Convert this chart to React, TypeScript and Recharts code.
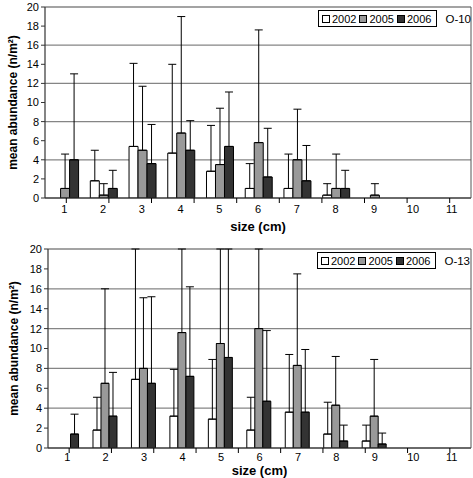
import { Bar, BarChart, CartesianGrid, ErrorBar, Legend, XAxis, YAxis } from 'recharts';

const SIZES = ['1', '2', '3', '4', '5', '6', '7', '8', '9', '10', '11'];
const EDGES = [0.5, 1.5, 2.5, 3.5, 4.5, 5.5, 6.5, 7.5, 8.5, 9.5, 10.5, 11.5];
const Y_TICKS = [0, 2, 4, 6, 8, 10, 12, 14, 16, 18, 20];
const Y_MAX = 20;
const YEARS = ['2002', '2005', '2006'];

// O-10: means and upper ends of the error bars
const O10_2002 = [0, 1.8, 5.4, 4.7, 2.8, 1.0, 1.0, 0.3, 0, 0, 0];
const O10_2005 = [1.0, 0.3, 5.0, 6.8, 3.5, 5.8, 4.0, 1.0, 0.3, 0, 0];
const O10_2006 = [4.0, 1.0, 3.6, 5.0, 5.4, 2.2, 1.8, 1.0, 0, 0, 0];
const O10_2002_UP = [0, 5.0, 14.1, 14.0, 7.6, 3.6, 4.6, 1.5, 0, 0, 0];
const O10_2005_UP = [4.6, 1.5, 11.7, 19.0, 9.4, 17.6, 9.3, 4.6, 1.5, 0, 0];
const O10_2006_UP = [13.0, 2.9, 7.7, 8.1, 11.1, 7.3, 5.5, 2.9, 0, 0, 0];

// O-13 (25 = runs off the top of the chart)
const O13_2002 = [0, 1.8, 6.9, 3.2, 2.9, 1.8, 3.6, 1.4, 0.7, 0, 0];
const O13_2005 = [0, 6.5, 8.0, 11.6, 10.5, 12.0, 8.3, 4.3, 3.2, 0, 0];
const O13_2006 = [1.4, 3.2, 6.5, 7.2, 9.1, 4.7, 3.6, 0.7, 0.4, 0, 0];
const O13_2002_UP = [0, 5.1, 25, 7.9, 8.9, 5.1, 9.4, 4.6, 2.3, 0, 0];
const O13_2005_UP = [0, 16.0, 15.1, 25, 25, 25, 17.5, 9.2, 8.9, 0, 0];
const O13_2006_UP = [3.4, 7.6, 15.2, 16.2, 25, 11.8, 9.9, 2.3, 1.5, 0, 0];

const FONT = '"Liberation Sans", Arial, sans-serif';
const FILLS = ['#ffffff', '#999999', '#333333'];

// error bars are one-sided (upwards), cut at the top of the plot
function build(a: number[], b: number[], c: number[], ua: number[], ub: number[], uc: number[]) {
  return SIZES.map((size, i) => ({
    size,
    v2002: a[i],
    v2005: b[i],
    v2006: c[i],
    e2002: [0, Math.min(ua[i], Y_MAX) - a[i]],
    e2005: [0, Math.min(ub[i], Y_MAX) - b[i]],
    e2006: [0, Math.min(uc[i], Y_MAX) - c[i]],
  }));
}

const dataO10 = build(O10_2002, O10_2005, O10_2006, O10_2002_UP, O10_2005_UP, O10_2006_UP);
const dataO13 = build(O13_2002, O13_2005, O13_2006, O13_2002_UP, O13_2005_UP, O13_2006_UP);

function LegendBox({ payload, tag }: any) {
  return (
    <div style={{ display: 'flex', alignItems: 'center', fontFamily: FONT, fontSize: 11, color: '#000', whiteSpace: 'nowrap' }}>
      <div style={{ display: 'flex', alignItems: 'center', border: '1px solid #000', padding: '0 2px 0 3px', height: 15, background: '#fff' }}>
        {(payload || []).map((p: any) => (
          <span key={p.value} style={{ display: 'flex', alignItems: 'center', marginRight: 3 }}>
            <span style={{ width: 6, height: 6, background: p.color, border: '1px solid #000', marginRight: 2 }} />
            {p.value}
          </span>
        ))}
      </div>
      <span style={{ marginLeft: 8, fontSize: 11.5 }}>{tag}</span>
    </div>
  );
}

interface PanelProps {
  data: any[];
  tag: string;
  height: number;
  top: number;
  axisHeight: number;
  tickGap: number;
  titleOffset: number;
  yWidth: number;
  legendTop: number;
  legendLeft: number;
}

function Panel({ data, tag, height, top, axisHeight, tickGap, titleOffset, yWidth, legendTop, legendLeft }: PanelProps) {
  return (
    <BarChart
      width={473}
      height={height}
      data={data}
      margin={{ top, right: 1, bottom: 0, left: 0 }}
      barCategoryGap="17%"
      barGap={0}
      style={{ fontFamily: FONT }}
    >
      <CartesianGrid xAxisId="b" vertical={false} stroke="#858585" strokeWidth={1.3} />
      {/* tick marks between the size classes, sits right on the plot */}
      <XAxis
        xAxisId="a"
        type="number"
        domain={[0.5, 11.5]}
        ticks={EDGES}
        allowDataOverflow
        tickFormatter={() => ''}
        axisLine={{ stroke: '#333', strokeWidth: 1.2 }}
        tickLine={{ stroke: '#000' }}
        tickSize={5}
        height={1}
      />
      <XAxis
        xAxisId="b"
        dataKey="size"
        tickLine={false}
        axisLine={false}
        tick={{ fontSize: 11, fill: '#000' }}
        tickSize={tickGap}
        height={axisHeight - 1}
        label={{ value: 'size (cm)', position: 'insideBottom', offset: titleOffset, fontSize: 13, fontWeight: 'bold', fill: '#000' }}
      />
      <YAxis
        domain={[0, Y_MAX]}
        ticks={Y_TICKS}
        allowDataOverflow
        width={yWidth}
        tickSize={4}
        tick={{ fontSize: 11, fill: '#000' }}
        axisLine={{ stroke: '#333', strokeWidth: 1.2 }}
        tickLine={{ stroke: '#333' }}
        label={{ value: 'mean abundance (n/m²)', angle: -90, position: 'center', dx: -10, fontSize: 12, fontWeight: 'bold', fill: '#000' }}
      />
      <YAxis yAxisId="r" orientation="right" domain={[0, Y_MAX]} tick={false} tickLine={false} width={1} axisLine={{ stroke: '#555' }} />
      {YEARS.map((y, i) => (
        <Bar key={y} xAxisId="b" dataKey={`v${y}`} name={y} fill={FILLS[i]} stroke="#000" strokeWidth={1} isAnimationActive={false}>
          <ErrorBar dataKey={`e${y}`} direction="y" width={4} stroke="#000" strokeWidth={1} />
        </Bar>
      ))}
      <Legend
        layout="horizontal"
        verticalAlign="middle"
        content={(props: any) => <LegendBox payload={props.payload} tag={tag} />}
        wrapperStyle={{ top: legendTop, left: legendLeft, width: 154 }}
      />
    </BarChart>
  );
}

export default function App() {
  return (
    <div style={{ position: 'absolute', left: 0, top: 0, width: 473, height: 478, background: '#fff' }}>
      <Panel data={dataO10} tag="O-10" height={240} top={7} axisHeight={42} tickGap={4} titleOffset={9} yWidth={45} legendTop={10} legendLeft={318} />
      <Panel data={dataO13} tag="O-13" height={238} top={9} axisHeight={30} tickGap={2} titleOffset={3} yWidth={48} legendTop={12} legendLeft={317} />
    </div>
  );
}
